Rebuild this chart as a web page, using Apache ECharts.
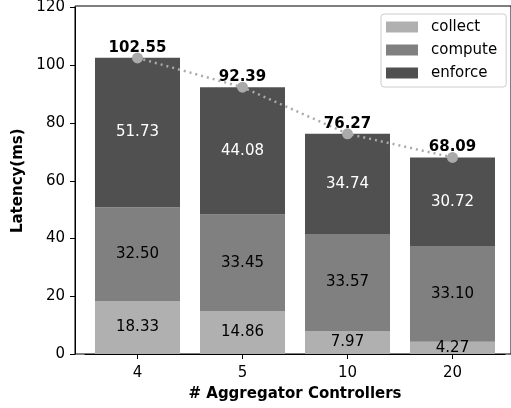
<!DOCTYPE html>
<html>
<head>
<meta charset="utf-8">
<script src="https://cdn.jsdelivr.net/npm/echarts@6/dist/echarts.min.js"></script>
<style>html,body{margin:0;padding:0;background:#fff}#c{width:511px;height:408px}</style>
</head>
<body>
<div id="c"></div>
<script>
const categories = ['4', '5', '10', '20'];
const collect = [18.33, 14.86, 7.97, 4.27];
const compute = [32.50, 33.45, 33.57, 33.10];
const enforce = [51.73, 44.08, 34.74, 30.72];
const totals = [102.55, 92.39, 76.27, 68.09];

const FONT = 'DejaVu Sans';
const fmt = p => Number(p.value).toFixed(2);

const chart = echarts.init(document.getElementById('c'), null, {renderer: 'canvas'});
function barSeries(name, data, color, labelColor) {
  return {
    name, type: 'bar', stack: 'lat', data: data, barWidth: 85,
    xAxisIndex: 1, yAxisIndex: 1,
    itemStyle: {color},
    label: {show: true, position: 'inside', formatter: fmt, color: labelColor,
            fontFamily: FONT, fontSize: 15},
    emphasis: {disabled: true}
  };
}
chart.setOption({
  animation: false,
  textStyle: {fontFamily: FONT},
  grid: [
    {left: 75, right: -4, top: 6, bottom: 54, show: true, borderColor: '#000', borderWidth: 1},
    {left: 85, right: 6, top: 6, bottom: 54}
  ],
  legend: {
    orient: 'vertical', left: 381, top: 14,
    data: ['collect', 'compute', 'enforce'],
    itemWidth: 32, itemHeight: 11, itemGap: 7,
    padding: [5, 9, 6, 5],
    borderColor: '#cccccc', borderWidth: 1, borderRadius: 3,
    backgroundColor: '#fff',
    icon: 'rect',
    textStyle: {fontFamily: FONT, fontSize: 15, color: '#000', lineHeight: 16, padding: [0, 0, 0, 8]}
  },
  xAxis: [
    {type: 'value', gridIndex: 0, show: false, min: 0, max: 1},
    {
      type: 'category', gridIndex: 1, data: categories,
      name: '# Aggregator Controllers', nameLocation: 'middle', nameGap: 33,
      nameTextStyle: {fontFamily: FONT, fontSize: 15, fontWeight: 'bold', color: '#000'},
      axisLine: {show: true, lineStyle: {color: '#000', width: 1}},
      axisTick: {show: true, length: 5, alignWithLabel: true, lineStyle: {color: '#000'}},
      axisLabel: {margin: 12, fontFamily: FONT, fontSize: 15, color: '#000'},
      splitLine: {show: false}
    }
  ],
  yAxis: [
    {type: 'value', gridIndex: 0, show: false, min: 0, max: 1},
    {
      type: 'value', gridIndex: 1, min: 0, max: 120, interval: 20, offset: 10,
      name: 'Latency(ms)', nameLocation: 'middle', nameGap: 49, nameRotate: 90,
      nameTextStyle: {fontFamily: FONT, fontSize: 15, fontWeight: 'bold', color: '#000'},
      axisLine: {show: true, onZero: false, lineStyle: {color: '#000', width: 1}},
      axisTick: {show: true, length: 5, lineStyle: {color: '#000'}},
      axisLabel: {margin: 10, fontFamily: FONT, fontSize: 15, color: '#000'},
      splitLine: {show: false}
    }
  ],
  series: [
    barSeries('collect', collect, '#b0b0b0', '#000'),
    barSeries('compute', compute, '#808080', '#000'),
    barSeries('enforce', enforce, '#505050', '#fff'),
    {
      name: 'total', type: 'line', data: totals, z: 5,
      xAxisIndex: 1, yAxisIndex: 1,
      symbol: 'circle', symbolSize: 11,
      itemStyle: {color: '#aaaaaa'},
      lineStyle: {color: '#aaaaaa', type: [2, 4], width: 2.5},
      label: {show: true, position: 'top', distance: -3, formatter: fmt,
              fontFamily: FONT, fontSize: 15, fontWeight: 'bold', color: '#000'},
      emphasis: {disabled: true}
    }
  ]
});
</script>
</body>
</html>
